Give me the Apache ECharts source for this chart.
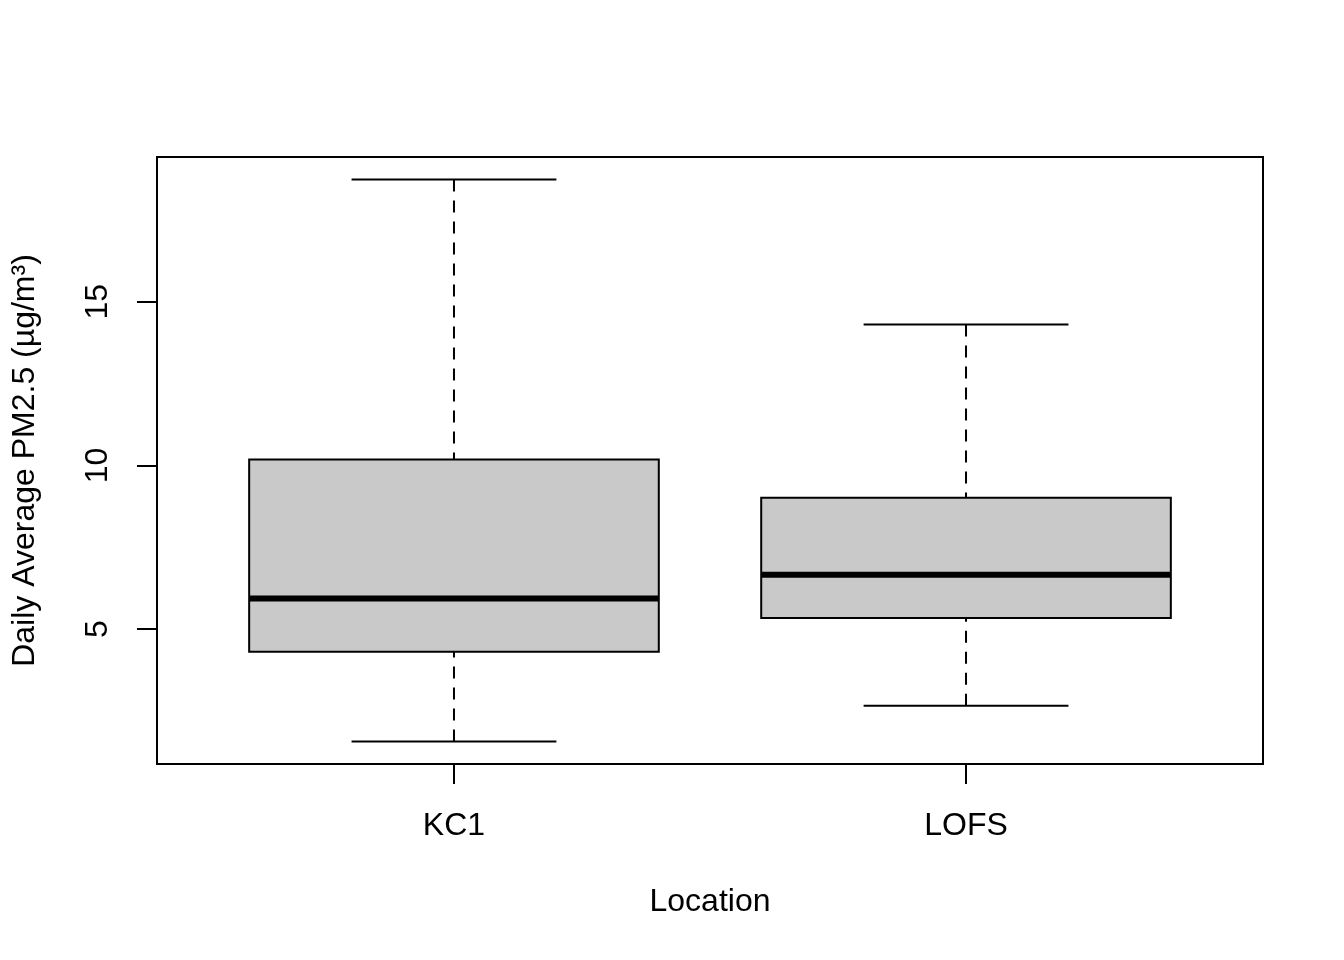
<!DOCTYPE html>
<html>
<head>
<meta charset="utf-8">
<script src="https://cdn.jsdelivr.net/npm/echarts@6/dist/echarts.min.js"></script>
<style>
html,body{margin:0;padding:0;background:#fff;}
#chart{width:1344px;height:960px;}
</style>
</head>
<body>
<div id="chart"></div>
<script>
const categories = ['KC1', 'LOFS'];
const whiskerLow = [1.57, 2.66];
const q1 = [4.31, 5.34];
const median = [5.94, 6.66];
const q3 = [10.18, 9.01];
const whiskerHigh = [18.73, 14.30];
const yTicks = [5, 10, 15];
const xTitle = 'Location';
const yTitle = 'Daily Average PM2.5 (µg/m³)';

const FONT = '"Liberation Sans", Arial, Helvetica, sans-serif';
const FS = 32;
const lo = Math.min.apply(null, whiskerLow), hi = Math.max.apply(null, whiskerHigh);
const yMin = lo - 0.04 * (hi - lo), yMax = hi + 0.04 * (hi - lo);
const n = categories.length;
const xMin = 0.5 - 0.04 * n, xMax = n + 0.5 + 0.04 * n;
const xPos = categories.map((c, i) => i + 1);

const data = categories.map((c, i) => [i + 1, whiskerLow[i], q1[i], median[i], q3[i], whiskerHigh[i]]);

function renderItem(params, api) {
  const x = api.value(0);
  const vLo = api.value(1), vQ1 = api.value(2), vMed = api.value(3), vQ3 = api.value(4), vHi = api.value(5);
  const bh = 0.4, ch = 0.2;
  const c = (a, b) => api.coord([a, b]);
  const dash = { stroke: '#000', lineWidth: 2, lineDash: [12, 9], fill: null };
  const solid = { stroke: '#000', lineWidth: 2, fill: null };
  const pHi = c(x, vHi), pQ3 = c(x, vQ3), pLo = c(x, vLo), pQ1 = c(x, vQ1);
  const tl = c(x - bh, vQ3), br = c(x + bh, vQ1);
  const mL = c(x - bh, vMed), mR = c(x + bh, vMed);
  const capHL = c(x - ch, vHi), capHR = c(x + ch, vHi);
  const capLL = c(x - ch, vLo), capLR = c(x + ch, vLo);
  return {
    type: 'group',
    children: [
      { type: 'line', shape: { x1: pHi[0], y1: pHi[1], x2: pQ3[0], y2: pQ3[1] }, style: dash },
      { type: 'line', shape: { x1: pLo[0], y1: pLo[1], x2: pQ1[0], y2: pQ1[1] }, style: dash },
      { type: 'line', shape: { x1: capHL[0], y1: capHL[1], x2: capHR[0], y2: capHR[1] }, style: solid },
      { type: 'line', shape: { x1: capLL[0], y1: capLL[1], x2: capLR[0], y2: capLR[1] }, style: solid },
      { type: 'rect', shape: { x: tl[0], y: tl[1], width: br[0] - tl[0], height: br[1] - tl[1] },
        style: { fill: '#C9C9C9', stroke: '#000', lineWidth: 2 } },
      { type: 'line', shape: { x1: mL[0], y1: mL[1], x2: mR[0], y2: mR[1] },
        style: { stroke: '#000', lineWidth: 6, lineCap: 'butt' } }
    ]
  };
}

const chart = echarts.init(document.getElementById('chart'), null, { renderer: 'canvas' });
chart.setOption({
  animation: false,
  backgroundColor: '#fff',
  textStyle: { fontFamily: FONT, color: '#000' },
  grid: { left: 157, right: 81, top: 157, bottom: 196, show: true, borderColor: '#000', borderWidth: 2, backgroundColor: 'transparent' },
  xAxis: {
    type: 'value', min: xMin, max: xMax,
    splitLine: { show: false },
    axisLine: { show: false },
    axisTick: { show: true, customValues: xPos, length: 20, lineStyle: { color: '#000', width: 2 } },
    axisLabel: { show: true, customValues: xPos, margin: 46, fontSize: FS, color: '#000', fontFamily: FONT,
      formatter: v => categories[Math.round(v) - 1] || '' },
    name: xTitle, nameLocation: 'middle', nameGap: 122,
    nameTextStyle: { fontSize: FS, color: '#000', fontFamily: FONT }
  },
  yAxis: {
    type: 'value', min: yMin, max: yMax,
    splitLine: { show: false },
    axisLine: { show: false },
    axisTick: { show: true, customValues: yTicks, length: 20, lineStyle: { color: '#000', width: 2 } },
    axisLabel: { show: true, customValues: yTicks, rotate: 90, margin: 43, fontSize: FS, color: '#000', fontFamily: FONT },
    name: yTitle, nameLocation: 'middle', nameGap: 116, nameRotate: 90,
    nameTextStyle: { fontSize: FS, color: '#000', fontFamily: FONT }
  },
  series: [{
    type: 'custom',
    renderItem: renderItem,
    data: data,
    clip: false,
    silent: true,
    encode: { x: 0, y: [1, 2, 3, 4, 5] }
  }]
});
</script>
</body>
</html>
